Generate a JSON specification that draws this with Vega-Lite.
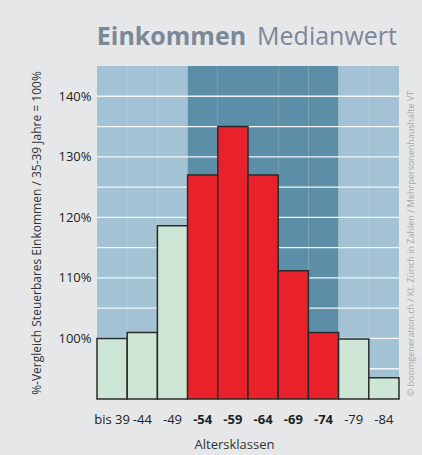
{
  "$schema": "https://vega.github.io/schema/vega-lite/v6.json",
  "width": 302,
  "height": 333,
  "autosize": {"type": "none"},
  "padding": {"left": 97, "top": 66, "right": 23, "bottom": 56},
  "background": "#e6e7e8",
  "config": {
    "view": {"stroke": null},
    "font": "Open Sans",
    "axis": {"labelFont": "Open Sans", "titleFont": "Open Sans"}
  },
  "data": {
    "values": [
      {"cat": "bis 39", "value": 100, "zone": "Rand"},
      {"cat": "-44", "value": 101, "zone": "Rand"},
      {"cat": "-49", "value": 118.6, "zone": "Rand"},
      {"cat": "-54", "value": 127, "zone": "Kern"},
      {"cat": "-59", "value": 135, "zone": "Kern"},
      {"cat": "-64", "value": 127, "zone": "Kern"},
      {"cat": "-69", "value": 111.2, "zone": "Kern"},
      {"cat": "-74", "value": 101, "zone": "Kern"},
      {"cat": "-79", "value": 99.9, "zone": "Rand"},
      {"cat": "-84", "value": 93.5, "zone": "Rand"}
    ]
  },
  "layer": [
    {
      "mark": {"type": "bar"},
      "encoding": {
        "x": {
          "field": "cat",
          "type": "nominal",
          "scale": {"domain": ["bis 39", "-44", "-49", "-54", "-59", "-64", "-69", "-74", "-79", "-84"], "paddingInner": 0, "paddingOuter": 0},
          "axis": {
            "title": "Altersklassen",
            "labelAngle": 0,
            "domain": false,
            "ticks": false,
            "labelPadding": 14,
            "labelFontSize": 13,
            "labelColor": "#222222",
            "labelFontWeight": {"condition": {"test": "indexof(['-54','-59','-64','-69','-74'], datum.value) >= 0", "value": "bold"}, "value": "normal"},
            "titleFontSize": 13,
            "titleFontWeight": "normal",
            "titleColor": "#333333",
            "titlePadding": 12,
            "titleX": 137
          }
        },
        "color": {
          "field": "zone",
          "type": "nominal",
          "scale": {"domain": ["Rand", "Kern"], "range": ["#a3c2d3", "#5c8fa7"]},
          "legend": null
        }
      }
    },
    {
      "data": {"values": [{"g": 95}, {"g": 100}, {"g": 105}, {"g": 110}, {"g": 115}, {"g": 120}, {"g": 125}, {"g": 130}, {"g": 135}, {"g": 140}]},
      "mark": {"type": "rule", "color": "#f2f6f8", "strokeWidth": 1.3},
      "encoding": {
        "y": {
          "field": "g",
          "type": "quantitative",
          "scale": {"domain": [90, 145], "zero": false, "nice": false},
          "axis": {
            "orient": "right",
            "title": "© boomgeneration.ch / Kt. Zürich in Zahlen / Mehrpersonenhaushalte VT",
            "labels": false,
            "ticks": false,
            "domain": false,
            "grid": false,
            "titleAngle": 270,
            "titleBaseline": "middle",
            "titleFontSize": 9,
            "titleColor": "#a8a8a8",
            "titleFontWeight": "normal",
            "titlePadding": 11,
            "titleY": 177
          }
        }
      }
    },
    {
      "mark": {"type": "bar", "stroke": "#2b2b2b", "strokeWidth": 1.5},
      "encoding": {
        "x": {
          "field": "cat",
          "type": "nominal",
          "scale": {"domain": ["bis 39", "-44", "-49", "-54", "-59", "-64", "-69", "-74", "-79", "-84"], "paddingInner": 0, "paddingOuter": 0}
        },
        "y": {
          "field": "value",
          "type": "quantitative",
          "scale": {"domain": [90, 145], "zero": false, "nice": false},
          "axis": {
            "title": "%-Vergleich Steuerbares Einkommen / 35-39 Jahre = 100%",
            "values": [100, 110, 120, 130, 140],
            "labelExpr": "datum.value + '%'",
            "grid": false,
            "ticks": false,
            "domain": false,
            "labelPadding": 6,
            "labelFontSize": 13,
            "labelColor": "#222222",
            "titlePadding": 14,
            "titleFontSize": 12,
            "titleFontWeight": "normal",
            "titleColor": "#333333"
          }
        },
        "y2": {"datum": 90},
        "fill": {
          "field": "zone",
          "type": "nominal",
          "scale": {"domain": ["Rand", "Kern"], "range": ["#cde6d5", "#e8212a"]},
          "legend": null
        }
      }
    },
    {
      "data": {"values": [{}]},
      "mark": {"type": "text", "text": "Einkommen", "align": "right", "baseline": "alphabetic", "fontSize": 25, "fontWeight": "bold", "color": "#7b8898", "dx": -17},
      "encoding": {
        "x": {"datum": "-64"},
        "y": {"datum": 148.5, "axis": null}
      }
    },
    {
      "data": {"values": [{}]},
      "mark": {"type": "text", "text": "Medianwert", "align": "left", "baseline": "alphabetic", "fontSize": 25, "fontWeight": "normal", "color": "#7b8898", "dx": -6},
      "encoding": {
        "x": {"datum": "-64"},
        "y": {"datum": 148.5, "axis": null}
      }
    }
  ],
  "resolve": {"axis": {"y": "independent"}}
}
